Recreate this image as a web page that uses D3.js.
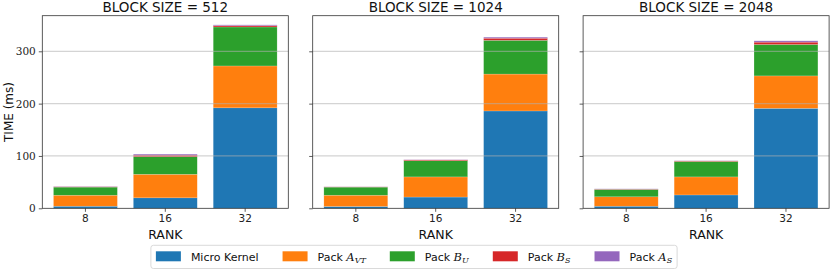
<!DOCTYPE html>
<html>
<head>
<meta charset="utf-8">
<script src="https://cdn.jsdelivr.net/npm/d3@7/dist/d3.min.js"></script>
<style>
body { margin: 0; background: #fff; }
svg { display: block; }
</style>
</head>
<body>
<svg id="chart" width="830" height="269"></svg>
<script>
// ranks on the x axis, one panel per block size
var ranks = ["8", "16", "32"];
var blockSizes = ["512", "1024", "2048"];
var yTicks = [0, 100, 200, 300];

// stacked times (ms), one row per block size, one value per rank
var microKernel = [[4, 20, 192], [3.5, 21.5, 186], [4, 25.5, 191]];
var packAVT     = [[21, 45, 80], [21.5, 38.5, 70.5], [18, 34.5, 62]];
var packBU      = [[15.5, 33.5, 74.5], [15.5, 31, 64.5], [14, 29.5, 60]];
var packBS      = [[0.7, 3, 2.5], [0.5, 1.5, 4], [0.7, 1, 4.5]];
var packAS      = [[0.5, 2, 1.5], [0.3, 0.5, 2], [0.5, 0.5, 2.5]];

var seriesNames = ["Micro Kernel", "Pack A_VT", "Pack B_U", "Pack B_S", "Pack A_S"];
var seriesData = [microKernel, packAVT, packBU, packBS, packAS];
var colors = ["#1f77b4", "#ff7f0e", "#2ca02c", "#d62728", "#9467bd"];

var svg = d3.select("#chart");
var sans = "DejaVu Sans, sans-serif";
var serif = "DejaVu Serif, serif";

var panelLeft = 42.3, panelW = 246, panelGap = 24.4;
var plotTop = 15.7, plotBottom = 208.3;

// shared y
var maxTotal = d3.max(blockSizes, function(b, bi){
    return d3.max(ranks, function(r, ri){
        return d3.sum(seriesData, function(s){ return s[bi][ri]; });
    });
});
var y = d3.scaleLinear().domain([0, maxTotal * 1.05]).range([plotBottom, plotTop]);

blockSizes.forEach(function(bs, bi){
    var x0 = panelLeft + bi * (panelW + panelGap);
    var x = d3.scaleBand().domain(ranks).range([0, panelW])
        .paddingInner(0.2).paddingOuter(0.14);

    var g = svg.append("g").attr("transform", "translate(" + x0 + ",0)");

    // stack rows for this panel
    var rows = ranks.map(function(r, ri){
        var o = { rank: r };
        seriesNames.forEach(function(n, si){ o[n] = seriesData[si][bi][ri]; });
        return o;
    });
    var stacked = d3.stack().keys(seriesNames)(rows);

    g.selectAll("g.layer")
        .data(stacked)
        .enter().append("g")
        .attr("class", "layer")
        .attr("fill", function(d, i){ return colors[i]; })
        .selectAll("rect")
        .data(function(d){ return d; })
        .enter().append("rect")
        .attr("x", function(d){ return x(d.data.rank); })
        .attr("width", x.bandwidth())
        .attr("y", function(d){ return y(d[1]); })
        .attr("height", function(d){ return y(d[0]) - y(d[1]); })
        .attr("stroke", "white")
        .attr("stroke-width", 0.5)
        .attr("stroke-opacity", 0.35);

    // grid on top of bars
    g.selectAll("line.grid")
        .data(yTicks.slice(1))
        .enter().append("line")
        .attr("class", "grid")
        .attr("x1", 0).attr("x2", panelW)
        .attr("y1", function(d){ return y(d); })
        .attr("y2", function(d){ return y(d); })
        .attr("stroke", "#b0b0b0")
        .attr("stroke-opacity", 0.55)
        .attr("stroke-width", 1.3);

    // frame
    g.append("rect")
        .attr("x", 0).attr("y", plotTop)
        .attr("width", panelW).attr("height", plotBottom - plotTop)
        .attr("fill", "none")
        .attr("stroke", "#333")
        .attr("stroke-width", 0.8);

    // x axis
    var xa = g.append("g")
        .attr("transform", "translate(0," + plotBottom + ")")
        .call(d3.axisBottom(x).tickSize(3.5).tickPadding(3));
    xa.select(".domain").remove();
    xa.selectAll("line").attr("stroke", "#333").attr("stroke-width", 0.8);
    xa.selectAll("text").attr("font-family", sans).attr("font-size", 10.5).attr("fill", "#222");

    // y axis
    var ya = g.append("g")
        .call(d3.axisLeft(y).tickValues(yTicks).tickSize(3.5).tickPadding(3)
            .tickFormat(bi === 0 ? d3.format("d") : ""));
    ya.select(".domain").remove();
    ya.selectAll("line").attr("stroke", "#333").attr("stroke-width", 0.8);
    ya.selectAll("text").attr("font-family", serif).attr("font-size", 10.5).attr("fill", "#222");

    // title
    g.append("text")
        .attr("x", panelW / 2).attr("y", 11.8)
        .attr("text-anchor", "middle")
        .attr("font-family", sans).attr("font-size", 13.5)
        .attr("fill", "#111")
        .text("BLOCK SIZE = " + bs);

    // x label
    g.append("text")
        .attr("x", panelW / 2).attr("y", 239)
        .attr("text-anchor", "middle")
        .attr("font-family", sans).attr("font-size", 12.5)
        .attr("fill", "#111")
        .text("RANK");
});

// y label
svg.append("text")
    .attr("transform", "translate(12.5," + ((plotTop + plotBottom) / 2) + ") rotate(-90)")
    .attr("text-anchor", "middle")
    .attr("font-family", sans).attr("font-size", 12)
    .attr("fill", "#111")
    .text("TIME (ms)");

/* legend */
var legend = svg.append("g");
var lx = 0;
seriesNames.forEach(function(n, i){
    var item = legend.append("g").attr("transform", "translate(" + lx + ",0)");
    item.append("rect")
        .attr("x", 0).attr("y", 251.3)
        .attr("width", 25).attr("height", 10)
        .attr("fill", colors[i]);
    var t = item.append("text")
        .attr("x", 35).attr("y", 260.5)
        .attr("font-family", sans).attr("font-size", 11)
        .attr("fill", "#111");
    var parts = n.split("_");
    if (parts.length === 1) {
        t.text(n);
    } else {
        var word = parts[0].split(" ");
        t.append("tspan").text(word[0] + " ");
        t.append("tspan").attr("font-family", serif).attr("font-style", "italic")
            .attr("font-size", 11.5).text(word[1]);
        t.append("tspan").attr("font-family", serif).attr("font-style", "italic")
            .attr("font-size", 8).attr("dy", 2.5).text(parts[1]);
    }
    var w = t.node().getComputedTextLength();
    lx += 35 + w + 24;
});
var legendW = lx - 24;
var lcx = 414;
legend.attr("transform", "translate(" + (lcx - legendW / 2) + ",0)");
legend.insert("rect", ":first-child")
    .attr("x", -5).attr("y", 245.3)
    .attr("width", legendW + 10).attr("height", 23.2)
    .attr("rx", 2.5)
    .attr("fill", "white")
    .attr("stroke", "#d0d0d0")
    .attr("stroke-width", 0.8);
</script>
</body>
</html>
